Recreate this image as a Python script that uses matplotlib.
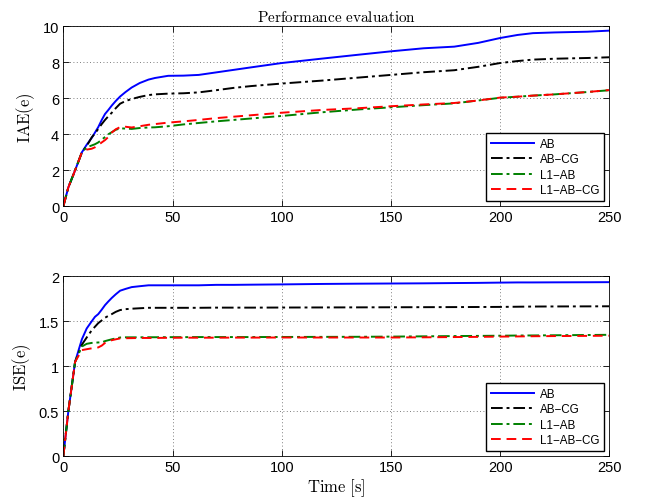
import matplotlib
matplotlib.use("Agg")
import matplotlib.pyplot as plt
from matplotlib.ticker import FixedLocator, FuncFormatter

plt.rcParams["mathtext.fontset"] = "cm"
plt.rcParams["font.family"] = ["Liberation Sans", "DejaVu Sans"]

# Time samples (s), shared by all series
t = [0, 2.3, 5.4, 8.5, 10.7, 13, 14.5, 16, 17.6, 19.1, 20.6, 22.2, 24, 26, 28.5,
     31.3, 35, 39, 42, 48, 55, 62, 70, 78, 86, 100, 118, 135, 150, 165, 179,
     190, 200, 208, 215, 225, 240, 250]

# IAE(e)
iae_ab = [0, 1.05, 2.0, 3.0, 3.42, 3.8, 4.1, 4.4, 4.8, 5.13, 5.35, 5.6, 5.85, 6.1,
          6.35, 6.6, 6.85, 7.04, 7.13, 7.25, 7.26, 7.3, 7.44, 7.58, 7.72, 7.96,
          8.2, 8.42, 8.61, 8.78, 8.87, 9.08, 9.35, 9.52, 9.62, 9.66, 9.7, 9.76]
iae_abcg = [0, 1.05, 2.0, 3.0, 3.35, 3.83, 4.05, 4.3, 4.57, 4.8, 5.0, 5.2, 5.45,
            5.7, 5.85, 5.96, 6.08, 6.18, 6.22, 6.26, 6.28, 6.33, 6.45, 6.58, 6.68,
            6.82, 6.98, 7.15, 7.3, 7.45, 7.56, 7.75, 7.96, 8.07, 8.15, 8.2, 8.24, 8.28]
iae_l1ab = [0, 1.05, 2.0, 3.0, 3.28, 3.38, 3.45, 3.55, 3.7, 3.85, 4.0, 4.12, 4.25,
            4.33, 4.32, 4.3, 4.35, 4.38, 4.39, 4.45, 4.55, 4.63, 4.72, 4.8, 4.88,
            5.02, 5.22, 5.38, 5.5, 5.62, 5.72, 5.88, 6.03, 6.09, 6.15, 6.22, 6.35, 6.45]
iae_l1abcg = [0, 1.05, 2.0, 3.0, 3.15, 3.2, 3.28, 3.4, 3.55, 3.68, 3.85, 4.1, 4.28,
              4.4, 4.42, 4.38, 4.45, 4.53, 4.57, 4.65, 4.72, 4.8, 4.9, 4.98, 5.06,
              5.2, 5.35, 5.45, 5.56, 5.66, 5.74, 5.88, 6.04, 6.09, 6.15, 6.22, 6.35, 6.46]

# ISE(e)
ise_ab = [0, 0.5, 1.05, 1.3, 1.42, 1.5, 1.55, 1.58, 1.63, 1.68, 1.72, 1.76, 1.8,
          1.84, 1.86, 1.88, 1.89, 1.9, 1.9, 1.9, 1.9, 1.9, 1.905, 1.905, 1.907,
          1.91, 1.915, 1.918, 1.92, 1.922, 1.925, 1.927, 1.93, 1.932, 1.932,
          1.933, 1.934, 1.935]
ise_abcg = [0, 0.5, 1.05, 1.24, 1.32, 1.4, 1.44, 1.48, 1.51, 1.54, 1.56, 1.58,
            1.605, 1.625, 1.635, 1.64, 1.645, 1.65, 1.65, 1.65, 1.65, 1.65, 1.652,
            1.652, 1.652, 1.653, 1.654, 1.655, 1.656, 1.657, 1.658, 1.659, 1.66,
            1.662, 1.664, 1.665, 1.666, 1.667]
ise_l1ab = [0, 0.5, 1.05, 1.22, 1.25, 1.26, 1.262, 1.265, 1.267, 1.28, 1.29, 1.3,
            1.31, 1.32, 1.322, 1.322, 1.322, 1.323, 1.323, 1.324, 1.324, 1.325,
            1.325, 1.325, 1.325, 1.326, 1.327, 1.328, 1.33, 1.333, 1.336, 1.338,
            1.34, 1.342, 1.343, 1.345, 1.348, 1.35]
ise_l1abcg = [0, 0.5, 1.05, 1.18, 1.19, 1.2, 1.2, 1.21, 1.23, 1.26, 1.28, 1.29,
              1.3, 1.31, 1.312, 1.313, 1.315, 1.315, 1.315, 1.317, 1.318, 1.318,
              1.318, 1.319, 1.319, 1.32, 1.32, 1.32, 1.32, 1.322, 1.325, 1.327,
              1.33, 1.332, 1.334, 1.336, 1.338, 1.34]

labels = ["AB", "AB\u2212CG", "L1\u2212AB", "L1\u2212AB\u2212CG"]
styles = [("#0000ff", "-"), ("#000000", (0, (6, 2, 1.5, 2))),
          ("#008000", (0, (6, 2, 1.5, 2))), ("#ff0000", (0, (5, 3)))]

x_ticks = [0, 50, 100, 150, 200, 250]


def fmt(v, _pos):
    return f"{v:g}"


def style_axes(ax, yticks, ylabel):
    ax.set_xlim(0, 250)
    ax.set_ylim(yticks[0], yticks[-1])
    ax.xaxis.set_major_locator(FixedLocator(x_ticks))
    ax.yaxis.set_major_locator(FixedLocator(yticks))
    ax.yaxis.set_major_formatter(FuncFormatter(fmt))
    ax.tick_params(direction="in", top=True, right=True, length=4, width=0.6,
                   labelsize=10.5, pad=3)
    ax.grid(True, linestyle=(0, (1, 3)), color="#555555", linewidth=0.6)
    for sp in ax.spines.values():
        sp.set_linewidth(0.6)
    ax.set_ylabel(ylabel, fontsize=12, labelpad=4)
    leg = ax.legend(loc="lower right", fontsize=8.4, fancybox=False,
                    framealpha=1, edgecolor="black", borderaxespad=0.45,
                    handlelength=3.7, labelspacing=0.3, handletextpad=0.5,
                    borderpad=0.4)
    leg.get_frame().set_linewidth(1.0)


fig = plt.figure(figsize=(6.48, 5.02), dpi=100)
ax1 = fig.add_axes([0.0977, 0.587, 0.8426, 0.3586])
ax2 = fig.add_axes([0.0977, 0.089, 0.8426, 0.3586])

for series, lab, (c, ls) in zip([iae_ab, iae_abcg, iae_l1ab, iae_l1abcg], labels, styles):
    ax1.plot(t, series, color=c, linestyle=ls, linewidth=1.4, label=lab)
for series, lab, (c, ls) in zip([ise_ab, ise_abcg, ise_l1ab, ise_l1abcg], labels, styles):
    ax2.plot(t, series, color=c, linestyle=ls, linewidth=1.4, label=lab)

style_axes(ax1, [0, 2, 4, 6, 8, 10], r"$\mathrm{IAE(e)}$")
style_axes(ax2, [0, 0.5, 1, 1.5, 2], r"$\mathrm{ISE(e)}$")
ax1.set_title(r"$\mathrm{Performance\ evaluation}$", fontsize=11, pad=4)
ax2.set_xlabel(r"$\mathrm{Time\ [s]}$", fontsize=12, labelpad=1)

fig.savefig("out.png", dpi=100)
